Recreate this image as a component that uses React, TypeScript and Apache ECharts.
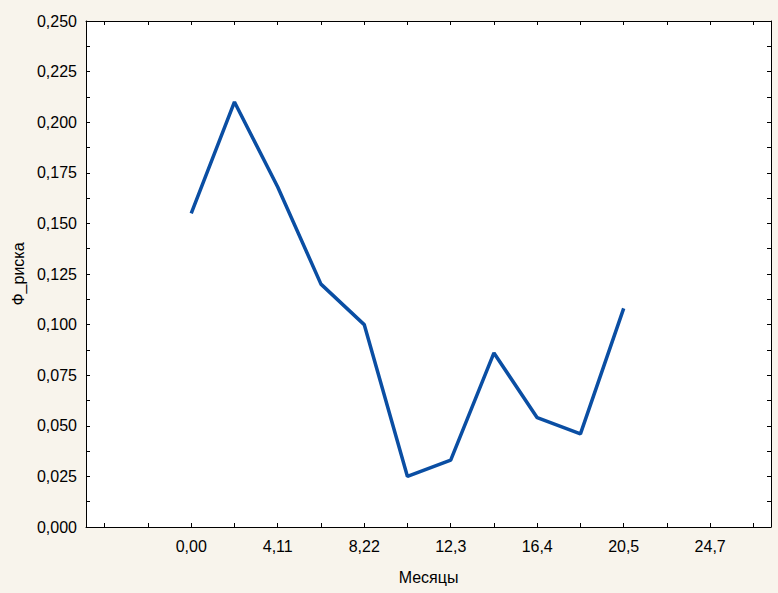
import React, { useEffect, useRef } from "react";
import * as echarts from "echarts";

const months = [0, 2.055, 4.11, 6.165, 8.22, 10.275, 12.33, 14.385, 16.44, 18.495, 20.55];
const risk = [0.155, 0.21, 0.168, 0.12, 0.1, 0.025, 0.033, 0.086, 0.054, 0.046, 0.108];

const xLabelValues = [0, 4.11, 8.22, 12.33, 16.44, 20.55, 24.66];
const xLabelTexts = ["0,00", "4,11", "8,22", "12,3", "16,4", "20,5", "24,7"];
const xTickValues = [-4.11, -2.055, 0, 2.055, 4.11, 6.165, 8.22, 10.275, 12.33, 14.385, 16.44, 18.495, 20.55, 22.605, 24.66, 26.715];
const yTickValues = [0, 0.0125, 0.025, 0.0375, 0.05, 0.0625, 0.075, 0.0875, 0.1, 0.1125, 0.125, 0.1375, 0.15, 0.1625, 0.175, 0.1875, 0.2, 0.2125, 0.225, 0.2375, 0.25];
const yLabelValues = [0, 0.025, 0.05, 0.075, 0.1, 0.125, 0.15, 0.175, 0.2, 0.225, 0.25];
const yLabelTexts = ["0,000", "0,025", "0,050", "0,075", "0,100", "0,125", "0,150", "0,175", "0,200", "0,225", "0,250"];

const X_MIN = -5.0;
const X_MAX = 27.55;
const FONT = "Liberation Sans, Arial, sans-serif";

function labelFor(values: number[], texts: string[], v: number): string {
  let best = 0;
  for (let i = 1; i < values.length; i++) {
    if (Math.abs(values[i] - v) < Math.abs(values[best] - v)) best = i;
  }
  return texts[best];
}

export default function App() {
  const ref = useRef<HTMLDivElement>(null);
  useEffect(() => {
    if (!ref.current) return;
    const chart = echarts.init(ref.current, null, { renderer: "svg" });
    const tickStyle = { show: true, inside: true, length: 4, lineStyle: { color: "#000", width: 1 } };
    chart.setOption({
      animation: false,
      backgroundColor: "#F8F4EC",
      grid: { left: 86, top: 21, right: 7, bottom: 66, show: true, backgroundColor: "#FFFFFF", borderWidth: 0 },
      xAxis: [
        {
          type: "value",
          min: X_MIN,
          max: X_MAX,
          position: "bottom",
          name: "Месяцы",
          nameLocation: "middle",
          nameGap: 42,
          nameTextStyle: { fontFamily: FONT, fontSize: 16, color: "#000" },
          axisLine: { show: true, onZero: false, lineStyle: { color: "#000", width: 1 } },
          axisTick: { ...tickStyle, customValues: xTickValues },
          axisLabel: {
            customValues: xLabelValues,
            formatter: (v: number) => labelFor(xLabelValues, xLabelTexts, v),
            fontFamily: FONT,
            fontSize: 16,
            color: "#000",
            margin: 11,
          },
          splitLine: { show: false },
        },
        {
          type: "value",
          min: X_MIN,
          max: X_MAX,
          position: "top",
          axisLine: { show: true, onZero: false, lineStyle: { color: "#000", width: 1 } },
          axisTick: { ...tickStyle, customValues: xTickValues },
          axisLabel: { show: false },
          splitLine: { show: false },
        },
      ],
      yAxis: [
        {
          type: "value",
          min: 0,
          max: 0.25,
          interval: 0.025,
          position: "left",
          name: "Ф_риска",
          nameLocation: "middle",
          nameGap: 60,
          nameTextStyle: { fontFamily: FONT, fontSize: 16, color: "#000" },
          axisLine: { show: true, onZero: false, lineStyle: { color: "#000", width: 1 } },
          axisTick: { ...tickStyle, customValues: yTickValues },
          axisLabel: {
            customValues: yLabelValues,
            formatter: (v: number) => labelFor(yLabelValues, yLabelTexts, v),
            fontFamily: FONT,
            fontSize: 16,
            color: "#000",
            margin: 9,
          },
          splitLine: { show: false },
        },
        {
          type: "value",
          min: 0,
          max: 0.25,
          interval: 0.025,
          position: "right",
          axisLine: { show: true, onZero: false, lineStyle: { color: "#000", width: 1 } },
          axisTick: { ...tickStyle, customValues: yTickValues },
          axisLabel: { show: false },
          splitLine: { show: false },
        },
      ],
      series: [
        {
          type: "line",
          xAxisIndex: 0,
          yAxisIndex: 0,
          data: months.map((m, i) => [m, risk[i]]),
          showSymbol: false,
          symbol: "none",
          lineStyle: { color: "#0A4EA3", width: 3.5 },
        },
      ],
    });
    return () => chart.dispose();
  }, []);
  return <div ref={ref} style={{ position: "absolute", left: 0, top: 0, width: 778, height: 593 }} />;
}
